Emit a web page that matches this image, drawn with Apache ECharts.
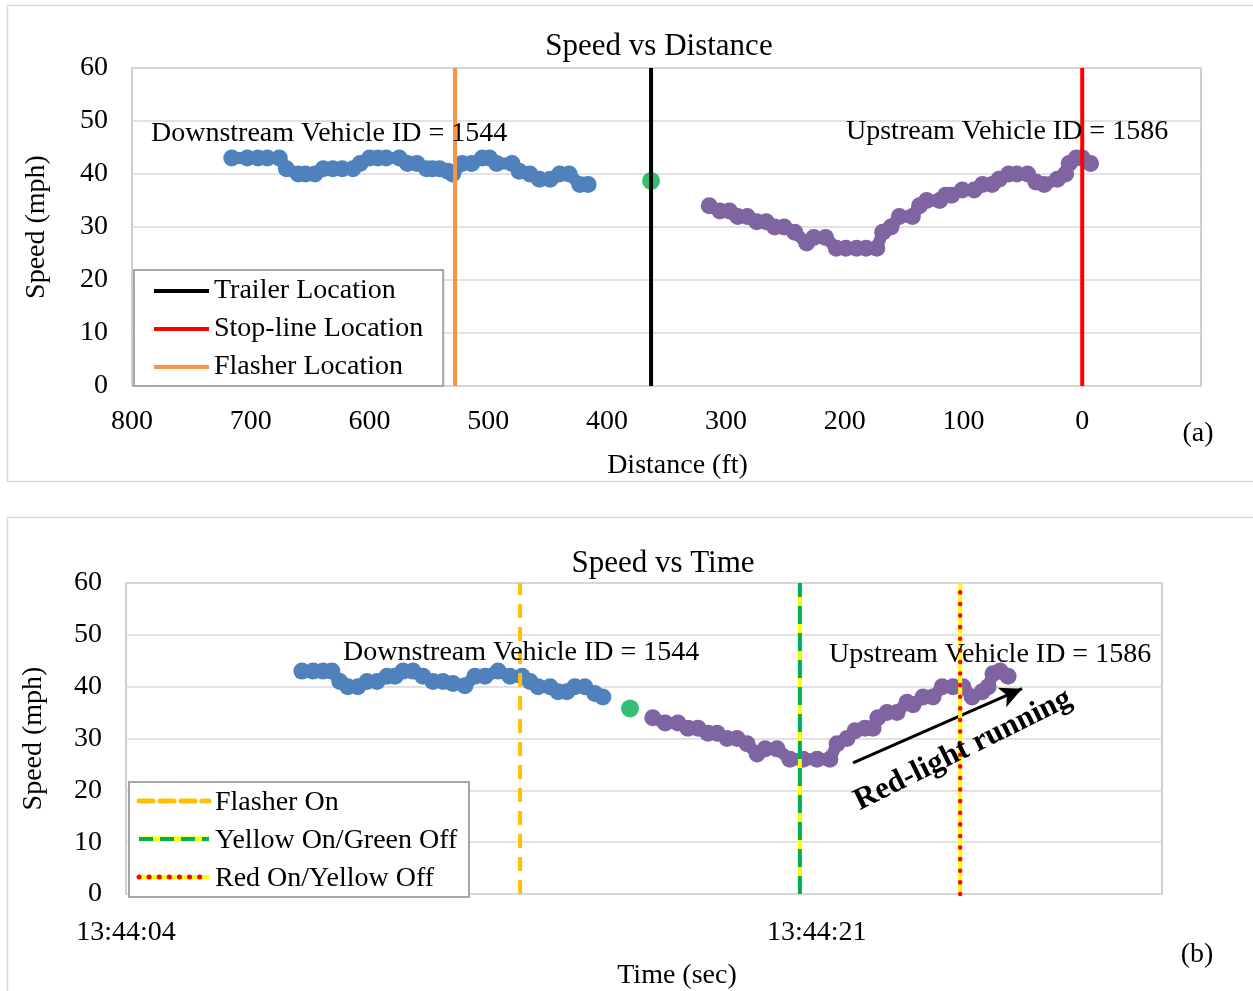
<!DOCTYPE html>
<html>
<head>
<meta charset="utf-8">
<script src="https://cdn.jsdelivr.net/npm/echarts@6/dist/echarts.min.js"></script>
<style>
  html, body { margin: 0; padding: 0; background: #fff; }
  #main { width: 1253px; height: 991px; }
</style>
</head>
<body>
<div id="main"></div>
<script>
// panel (a): speed vs distance
var dsDist = [716,703,694,686,676,670,660,654,646,639,631,623,614,608,600,593,586,575,568,560,552,547,541,534,530,522,514,505,499,493,480,474,465,457,448,440,432,423,416];
var dsSpeed = [43,43,43,43,43,41,40,40,40,41,41,41,41,42,43,43,43,43,42,42,41,41,41,40.5,40,42,42,43,43,42,42,40.5,40,39,39,40,40,38,38];
var usDist = [314,305,297,290,282,274,266,259,251,242,232,226,216,207,199,190,182,173,168,161,154,143,137,131,120,115,110,101,91,84,76,70,62,55,46,39,32,21,14,11,5,0,-7];
var usSpeed = [34,33,33,32,32,31,31,30,30,29,27,28,28,26,26,26,26,26,29,30,32,32,34,35,35,36,36,37,37,38,38,39,40,40,40,38.5,38,39,40,42,43,43,42];
var trailerPt = [363, 38.7];
var flasherDist = 528, trailerDist = 363, stopDist = 0;
var distTicks = [800,700,600,500,400,300,200,100,0];

// panel (b): speed vs time (seconds after 13:44:04)
var dsTime = [4.40,4.68,4.93,5.15,5.35,5.55,5.80,6.03,6.28,6.53,6.73,6.93,7.18,7.43,7.68,7.93,8.18,8.48,8.73,8.98,9.31,9.61,9.91,10.11,10.31,10.61,10.81,11.03,11.23,11.48,11.73,11.93];
var dsSpeedT = [43,43,43,43,41,40,40,41,41,42,42,43,43,42,41,41,40.6,40.2,42,42,43,42,42,41,40,40,39,39,40,40,38.7,38];
var usTime = [13.18,13.49,13.81,14.06,14.31,14.56,14.79,15.04,15.29,15.54,15.79,15.99,16.29,16.61,16.94,17.29,17.61,17.79,18.04,18.24,18.49,18.69,18.81,19.04,19.29,19.54,19.69,19.94,20.19,20.42,20.69,20.94,21.17,21.42,21.57,21.69,21.87,22.07];
var usSpeedT = [34,33,33,32,32,31,31,30,30,29,27,28,28,26,26,26,26,29,30,31.5,32,32,34,35,35,37,36.5,38,38,40,40,40,38,39,40,42.5,43,42];
var trailerPtT = [12.61, 35.8];
var flasherOn = 9.86, yellowOn = 16.86, redOn = 20.87;
var arrowFrom = [18.19, 25.3], arrowTo = [22.42, 39.6];

var FONT = "'Liberation Serif', 'Times New Roman', serif";
var BLUE = '#4f81bd', PURPLE = '#8064a2', GREEN = '#00b050';

function zip(xs, ys) {
    return xs.map(function (x, i) { return [x, ys[i]]; });
}
function vline(x) { return [[x, 0], [x, 60]]; }
function pad2(n) { return (n < 10 ? '0' : '') + n; }
function timeLabel(v) {
    if (v > 20) return '';
    var s = 4 + Math.floor(v + 1e-6);
    return '13:' + pad2(44 + Math.floor(s / 60)) + ':' + pad2(s % 60);
}

function dots(name, data, color, xi, yi) {
    return {
        name: name, type: 'line', xAxisIndex: xi, yAxisIndex: yi, data: data,
        symbol: 'circle', symbolSize: 17, showSymbol: true,
        itemStyle: { color: color }, lineStyle: { color: color, width: 12, cap: 'round', join: 'round' },
        z: 3
    };
}
function marker(xy, xi, yi) {
    return {
        type: 'scatter', xAxisIndex: xi, yAxisIndex: yi, data: [xy],
        symbolSize: 18, itemStyle: { color: GREEN }, z: 4
    };
}
function vert(name, x, xi, yi, ls, z) {
    return {
        name: name, type: 'line', xAxisIndex: xi, yAxisIndex: yi, data: vline(x),
        showSymbol: false, symbol: 'none', itemStyle: { color: ls.color },
        lineStyle: ls, z: z || 5
    };
}
function txt(x, y, s, font, align) {
    return {
        type: 'text', x: x, y: y, z: 10,
        style: { text: s, font: font + ' ' + FONT, fill: '#000', textAlign: align || 'left', textVerticalAlign: 'middle' }
    };
}

var chart = echarts.init(document.getElementById('main'));

var yAxisBase = {
    type: 'value', min: 0, max: 60, interval: 10,
    name: 'Speed (mph)', nameLocation: 'middle', nameRotate: 90,
    nameTextStyle: { fontFamily: FONT, fontSize: 28, color: '#000' },
    axisLine: { show: false }, axisTick: { show: false },
    axisLabel: { fontFamily: FONT, fontSize: 28, color: '#000', margin: 24, padding: [4, 0, 0, 0] },
    splitLine: { lineStyle: { color: '#d9d9d9', width: 1.5 } }
};

var option = {
    animation: false,
    backgroundColor: '#fff',
    grid: [
        { left: 132, top: 68, width: 1069, height: 318, show: true, borderColor: '#bfbfbf', borderWidth: 1.5 },
        { left: 126, top: 583, width: 1036, height: 315, show: true, borderColor: '#bfbfbf', borderWidth: 1.5 }
    ],
    xAxis: [{
        gridIndex: 0, type: 'value', min: -100, max: 800, interval: 100, inverse: true,
        name: 'Distance (ft)', nameLocation: 'middle', nameGap: 62,
        nameTextStyle: { fontFamily: FONT, fontSize: 28, color: '#000', padding: [4, 0, 0, 22] },
        axisLine: { show: false }, axisTick: { show: false }, splitLine: { show: false },
        axisLabel: {
            fontFamily: FONT, fontSize: 28, color: '#000', margin: 22,
            formatter: function (v) { return distTicks.indexOf(v) >= 0 ? String(v) : ''; }
        }
    }, {
        gridIndex: 1, type: 'value', min: 0, max: 25.92, interval: 17.28,
        name: 'Time (sec)', nameLocation: 'middle', nameGap: 62,
        nameTextStyle: { fontFamily: FONT, fontSize: 28, color: '#000', padding: [6, 0, 0, 66] },
        axisLine: { show: false }, axisTick: { show: false }, splitLine: { show: false },
        axisLabel: { fontFamily: FONT, fontSize: 28, color: '#000', margin: 25, showMaxLabel: false, formatter: timeLabel }
    }],
    yAxis: [
        Object.assign({}, yAxisBase, { gridIndex: 0, nameGap: 81 }),
        Object.assign({}, yAxisBase, { gridIndex: 1, nameGap: 78 })
    ],
    legend: {
        orient: 'vertical', left: 134, top: 270,
        data: ['Trailer Location', 'Stop-line Location', 'Flasher Location'],
        icon: 'rect', itemWidth: 55, itemHeight: 4, itemGap: 10,
        padding: [7, 20, 5, 20],
        backgroundColor: '#fff', borderColor: '#a6a6a6', borderWidth: 2,
        textStyle: { fontFamily: FONT, fontSize: 28, color: '#000' },
        selectedMode: false
    },
    series: [
        dots('Downstream', zip(dsDist, dsSpeed), BLUE, 0, 0),
        dots('Upstream', zip(usDist, usSpeed), PURPLE, 0, 0),
        marker(trailerPt, 0, 0),
        vert('Flasher Location', flasherDist, 0, 0, { color: '#f79646', width: 4 }),
        vert('Trailer Location', trailerDist, 0, 0, { color: '#000000', width: 4 }),
        vert('Stop-line Location', stopDist, 0, 0, { color: '#ff0000', width: 4 }),

        dots('DownstreamT', zip(dsTime, dsSpeedT), BLUE, 1, 1),
        Object.assign(dots('UpstreamT', zip(usTime, usSpeedT), PURPLE, 1, 1), {
            markLine: {
                silent: true, symbol: ['none', 'arrow'], symbolSize: [16, 22],
                label: { show: false },
                lineStyle: { color: '#000', width: 3, type: 'solid' },
                data: [[{ coord: arrowFrom }, { coord: arrowTo }]]
            }
        }),
        marker(trailerPtT, 1, 1),
        vert('Flasher On', flasherOn, 1, 1, { color: '#ffc000', width: 4, type: [14, 9] }),
        vert('Yellow base', yellowOn, 1, 1, { color: '#ffff00', width: 4 }),
        vert('Green Off', yellowOn, 1, 1, { color: GREEN, width: 4, type: [18, 9] }, 6),
        vert('Red base', redOn, 1, 1, { color: '#ffff00', width: 4 }),
        vert('Red On', redOn, 1, 1, { color: '#ff0000', width: 4.5, type: [0.1, 11.5], cap: 'round' }, 6)
    ],
    graphic: [
        // panel frames
        { type: 'rect', z: -10, shape: { x: 7.5, y: 5.5, width: 1260, height: 476 }, style: { fill: null, stroke: '#d9d9d9', lineWidth: 1.5 } },
        { type: 'rect', z: -10, shape: { x: 7.5, y: 517.5, width: 1260, height: 490 }, style: { fill: null, stroke: '#d9d9d9', lineWidth: 1.5 } },
        // titles and notes
        txt(659, 47, 'Speed vs Distance', '31px', 'center'),
        txt(663, 564, 'Speed vs Time', '31px', 'center'),
        txt(151, 134, 'Downstream Vehicle ID = 1544', '28px'),
        txt(846, 132, 'Upstream Vehicle ID = 1586', '28px'),
        txt(343, 653, 'Downstream Vehicle ID = 1544', '28px'),
        txt(829, 655, 'Upstream Vehicle ID = 1586', '28px'),
        txt(1198, 434, '(a)', '28px', 'center'),
        txt(1197, 955, '(b)', '28px', 'center'),
        { type: 'text', x: 963, y: 750, rotation: 0.46, z: 10,
          style: { text: 'Red-light running', font: 'bold 31px ' + FONT, fill: '#000', textAlign: 'center', textVerticalAlign: 'middle' } },
        // legend of panel (b)
        {
            type: 'group', left: 128, top: 781, z: 20,
            children: [
                { type: 'rect', z: 20, shape: { x: 0, y: 0, width: 340, height: 115 }, style: { fill: '#fff', stroke: '#a6a6a6', lineWidth: 2 } },
                { type: 'line', z: 21, shape: { x1: 10, y1: 19, x2: 80, y2: 19 }, style: { stroke: '#ffc000', lineWidth: 5, lineDash: [14, 7], lineCap: 'round' } },
                { type: 'text', z: 21, x: 86, y: 21, style: { text: 'Flasher On', font: '28px ' + FONT, fill: '#000', textVerticalAlign: 'middle' } },
                { type: 'line', z: 21, shape: { x1: 10, y1: 57, x2: 80, y2: 57 }, style: { stroke: '#ffff00', lineWidth: 5 } },
                { type: 'line', z: 22, shape: { x1: 10, y1: 57, x2: 80, y2: 57 }, style: { stroke: GREEN, lineWidth: 4, lineDash: [14, 7] } },
                { type: 'text', z: 21, x: 86, y: 59, style: { text: 'Yellow On/Green Off', font: '28px ' + FONT, fill: '#000', textVerticalAlign: 'middle' } },
                { type: 'line', z: 21, shape: { x1: 10, y1: 95, x2: 80, y2: 95 }, style: { stroke: '#ffff00', lineWidth: 4 } },
                { type: 'line', z: 22, shape: { x1: 10, y1: 95, x2: 80, y2: 95 }, style: { stroke: '#ff0000', lineWidth: 5, lineDash: [0.1, 10], lineCap: 'round' } },
                { type: 'text', z: 21, x: 86, y: 97, style: { text: 'Red On/Yellow Off', font: '28px ' + FONT, fill: '#000', textVerticalAlign: 'middle' } }
            ]
        }
    ]
};

chart.setOption(option);
</script>
</body>
</html>
